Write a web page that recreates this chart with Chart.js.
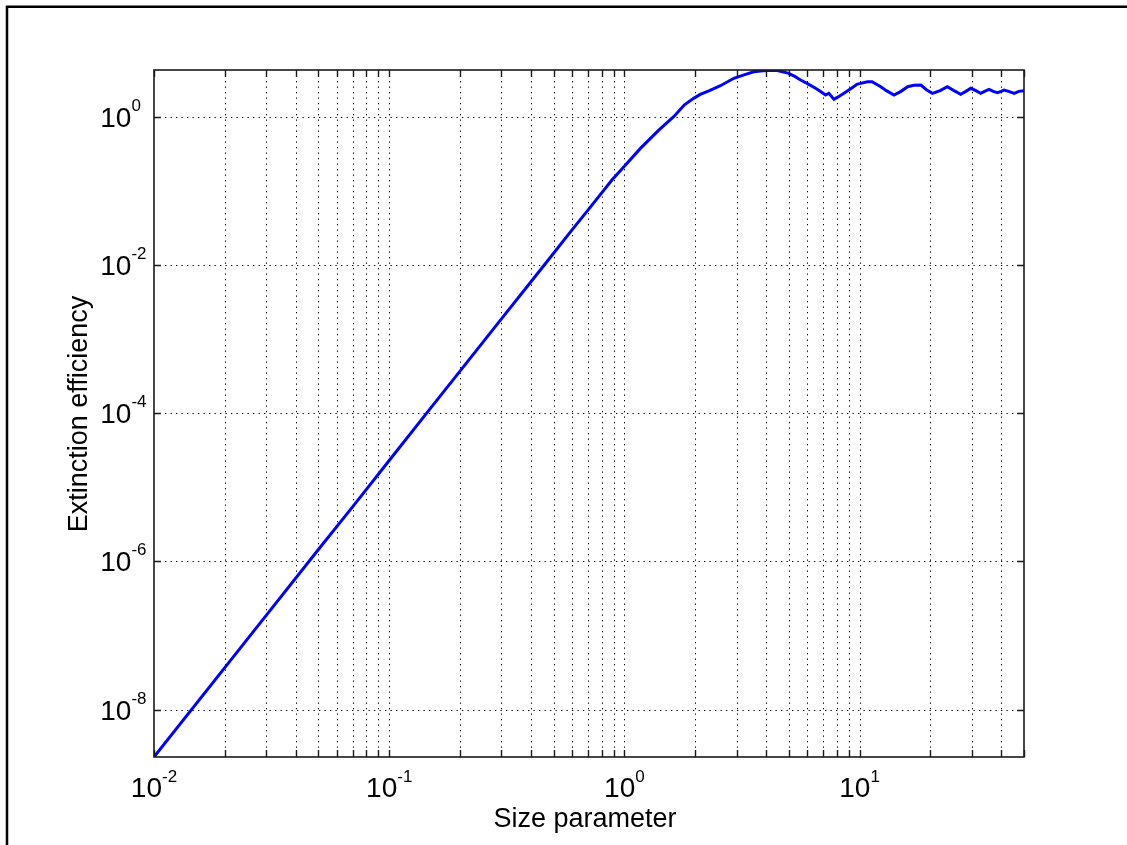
<!DOCTYPE html>
<html>
<head>
<meta charset="utf-8">
<script src="https://cdn.jsdelivr.net/npm/chart.js@4.4.0/dist/chart.umd.min.js"></script>
<style>
html,body{margin:0;padding:0;background:#fff;}
#wrap{width:1127px;height:845px;}
</style>
</head>
<body>
<div id="wrap"><canvas id="c" width="1127" height="845"></canvas></div>
<script>
// ---- data ----
const sizeParam = [0.01, 0.02, 0.03, 0.05, 0.07, 0.1, 0.15, 0.2, 0.3, 0.4, 0.5, 0.6, 0.7, 0.885, 1.0, 1.17, 1.4, 1.62, 1.8, 1.97, 2.1, 2.3, 2.56, 2.92, 3.2, 3.55, 3.8, 4.05, 4.46, 4.7, 5.0, 5.3, 5.61, 6.0, 6.5, 6.8, 7.17, 7.4, 7.78, 8.1, 8.58, 9.2, 9.78, 10.1, 10.8, 11.3, 12.3, 13.0, 14.0, 15.0, 16.0, 17.0, 18.2, 19.3, 20.4, 22.0, 23.6, 25.2, 26.9, 28.3, 29.7, 31.2, 32.7, 34.0, 35.5, 37.0, 38.6, 40.0, 41.1, 43.0, 45.4, 47.5, 50.0];
const extinction = [2.3e-9, 3.7e-8, 1.87e-7, 1.45e-6, 5.5e-6, 2.3e-5, 1.17e-4, 3.7e-4, 1.87e-3, 5.9e-3, 1.44e-2, 3.0e-2, 5.5e-2, 0.14, 0.215, 0.374, 0.66, 1.0, 1.45, 1.77, 2.0, 2.25, 2.62, 3.3, 3.65, 4.05, 4.15, 4.2, 4.2, 4.05, 3.85, 3.5, 3.13, 2.8, 2.42, 2.2, 1.96, 2.07, 1.72, 1.85, 2.07, 2.4, 2.76, 2.82, 2.97, 2.97, 2.54, 2.25, 1.96, 2.2, 2.54, 2.65, 2.68, 2.3, 2.07, 2.25, 2.54, 2.25, 2.01, 2.2, 2.42, 2.25, 2.07, 2.2, 2.34, 2.2, 2.11, 2.2, 2.29, 2.2, 2.07, 2.2, 2.24];

const xRange = [0.01, 50];
const yRange = [2.3e-9, 4.27];
const xGridValues = [0.01,0.02,0.03,0.04,0.05,0.06,0.07,0.08,0.09,0.1,0.2,0.3,0.4,0.5,0.6,0.7,0.8,0.9,1,2,3,4,5,6,7,8,9,10,20,30,40,50];
const xLabelValues = [0.01, 0.1, 1, 10];
const xLabelExps = ['-2', '-1', '0', '1'];
const yLabelValues = [1, 1e-2, 1e-4, 1e-6, 1e-8];
const yLabelExps = ['0', '-2', '-4', '-6', '-8'];
const xTitle = 'Size parameter';
const yTitle = 'Extinction efficiency';

const FONT = '"Liberation Sans", Arial, Helvetica, sans-serif';

function drawPow(ctx, base, exp, x, baseY, expY, align) {
  ctx.font = '28px ' + FONT;
  const wb = ctx.measureText(base).width;
  ctx.font = '17px ' + FONT;
  const we = ctx.measureText(exp).width;
  let left;
  if (align === 'center') left = x - (wb + we) / 2;
  else left = x;
  ctx.textAlign = 'left';
  ctx.textBaseline = 'alphabetic';
  ctx.font = '28px ' + FONT;
  ctx.fillText(base, left, baseY);
  ctx.font = '17px ' + FONT;
  ctx.fillText(exp, left + wb, expY);
}

const decor = {
  id: 'decor',
  beforeDraw(chart) {
    const ctx = chart.ctx;
    ctx.save();
    ctx.fillStyle = '#fff';
    ctx.fillRect(0, 0, chart.width, chart.height);
    ctx.restore();
  },
  beforeDatasetsDraw(chart) {
    const ctx = chart.ctx, a = chart.chartArea;
    const xs = chart.scales.x, ys = chart.scales.y;
    ctx.save();
    ctx.strokeStyle = '#000';
    ctx.lineWidth = 1;
    ctx.setLineDash([1.3, 4.2]);
    xGridValues.forEach(v => {
      const px = Math.round(xs.getPixelForValue(v)) + 0.5;
      if (px <= a.left + 1 || px >= a.right - 1) return;
      ctx.beginPath(); ctx.moveTo(px, a.top); ctx.lineTo(px, a.bottom); ctx.stroke();
    });
    yLabelValues.forEach(v => {
      const py = Math.round(ys.getPixelForValue(v)) + 0.5;
      if (py <= a.top + 1 || py >= a.bottom - 1) return;
      ctx.beginPath(); ctx.moveTo(a.left, py); ctx.lineTo(a.right, py); ctx.stroke();
    });
    ctx.restore();
  },
  afterDatasetsDraw(chart) {
    const ctx = chart.ctx, a = chart.chartArea;
    const xs = chart.scales.x, ys = chart.scales.y;
    ctx.save();
    ctx.strokeStyle = '#1a1a1a';
    ctx.lineWidth = 1.6;
    ctx.setLineDash([]);
    ctx.strokeRect(a.left, a.top, a.right - a.left, a.bottom - a.top);
    const tl = 7;
    ctx.lineWidth = 1.4;
    xGridValues.forEach(v => {
      const px = Math.round(xs.getPixelForValue(v)) + 0.5;
      ctx.beginPath();
      ctx.moveTo(px, a.bottom); ctx.lineTo(px, a.bottom - tl);
      ctx.moveTo(px, a.top); ctx.lineTo(px, a.top + tl);
      ctx.stroke();
    });
    yLabelValues.forEach(v => {
      const py = Math.round(ys.getPixelForValue(v)) + 0.5;
      ctx.beginPath();
      ctx.moveTo(a.left, py); ctx.lineTo(a.left + tl, py);
      ctx.moveTo(a.right, py); ctx.lineTo(a.right - tl, py);
      ctx.stroke();
    });
    ctx.fillStyle = '#000';
    xLabelValues.forEach((v, i) => {
      const px = xs.getPixelForValue(v);
      drawPow(ctx, '10', xLabelExps[i], px, 797, 782, 'center');
    });
    yLabelValues.forEach((v, i) => {
      const py = ys.getPixelForValue(v);
      drawPow(ctx, '10', yLabelExps[i], 100.3, py + 10, py - 6, 'left');
    });
    ctx.font = '27px ' + FONT;
    ctx.textAlign = 'center';
    ctx.textBaseline = 'alphabetic';
    ctx.fillText(xTitle, 585, 827);
    ctx.save();
    ctx.translate(86.5, 414);
    ctx.rotate(-Math.PI / 2);
    ctx.fillText(yTitle, 0, 0);
    ctx.restore();
    ctx.strokeStyle = '#000';
    ctx.lineWidth = 2.5;
    ctx.beginPath();
    ctx.moveTo(7, 845); ctx.lineTo(7, 6.8); ctx.lineTo(1127, 6.8);
    ctx.stroke();
    ctx.restore();
  }
};

const points = sizeParam.map((x, i) => ({ x: x, y: extinction[i] }));

new Chart(document.getElementById('c'), {
  type: 'line',
  data: {
    datasets: [{
      data: points,
      borderColor: '#0000ff',
      borderWidth: 3,
      pointRadius: 0,
      tension: 0,
      fill: false
    }]
  },
  options: {
    responsive: false,
    animation: false,
    devicePixelRatio: 1,
    layout: { padding: { left: 154, right: 103, top: 70, bottom: 88 } },
    plugins: { legend: { display: false }, tooltip: { enabled: false } },
    scales: {
      x: { type: 'logarithmic', min: xRange[0], max: xRange[1], display: false },
      y: { type: 'logarithmic', min: yRange[0], max: yRange[1], display: false }
    }
  },
  plugins: [decor]
});
</script>
</body>
</html>
